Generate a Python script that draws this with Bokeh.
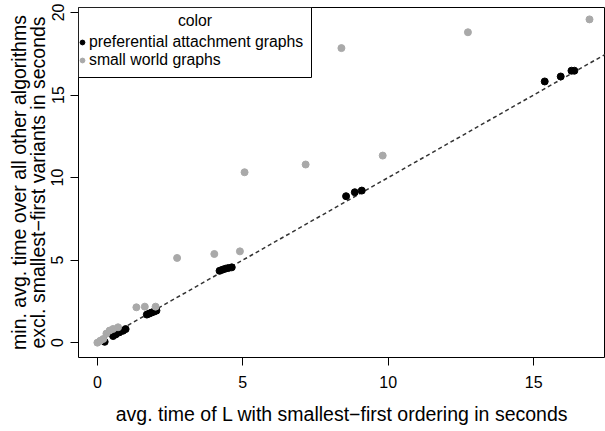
from bokeh.plotting import figure
from bokeh.models import Range1d, FixedTicker, Legend, LegendItem, BoxAnnotation, Label
from bokeh.embed import file_html
from bokeh.resources import INLINE

# preferential attachment graphs
pa_x = [0.25, 0.54, 0.63, 0.75, 0.88, 0.97, 1.70, 1.78, 1.86, 1.95, 2.03,
        4.20, 4.30, 4.40, 4.50, 4.62, 8.55, 8.85, 9.09, 15.38, 15.93, 16.30, 16.40]
pa_y = [0.05, 0.40, 0.50, 0.62, 0.72, 0.82, 1.70, 1.76, 1.82, 1.88, 1.94,
        4.35, 4.42, 4.48, 4.52, 4.56, 8.87, 9.11, 9.21, 15.82, 16.12, 16.47, 16.47]
# small world graphs
sw_x = [0.00, 0.10, 0.20, 0.31, 0.42, 0.54, 0.71, 1.34, 1.63, 2.00, 2.74,
        4.02, 4.90, 5.06, 7.16, 8.39, 9.81, 12.74, 16.92]
sw_y = [0.00, 0.12, 0.22, 0.55, 0.73, 0.83, 0.93, 2.14, 2.18, 2.18, 5.13,
        5.37, 5.53, 10.32, 10.79, 17.84, 11.33, 18.80, 19.58]
# reference line y = x
ref_x = [0, 18]
ref_y = [0, 18]

x_ticks = [0, 5, 10, 15]
y_ticks = [0, 5, 10, 15, 20]
legend_labels = ["preferential attachment graphs", "small world graphs"]
legend_title = "color"
x_title = "avg. time of L with smallest\u2212first ordering in seconds"
y_title = "min. avg. time over all other algorithms\nexcl. smallest\u2212first variants in seconds"

FONT = "Liberation Sans"
W, H = 605, 431
FL, FR, FT, FB = 78, 605, 7, 357
X0, X1 = -0.65, 17.47
Y0, Y1 = -0.9, 20.3

def px_x(px):
    return X0 + (px - FL) / (FR - FL) * (X1 - X0)

def px_y(py):
    return Y1 - (py - FT) / (FB - FT) * (Y1 - Y0)

p = figure(width=W, height=H, output_backend="svg", toolbar_location=None,
           x_range=Range1d(X0, X1), y_range=Range1d(Y0, Y1),
           min_border_left=FL, min_border_right=W - FR,
           min_border_top=FT, min_border_bottom=H - FB)
p.grid.visible = False
p.outline_line_color = "black"
p.outline_line_width = 1
p.background_fill_color = "white"
p.border_fill_color = "white"

for ax, ticks in ((p.xaxis, x_ticks), (p.yaxis, y_ticks)):
    ax.ticker = FixedTicker(ticks=ticks)
    ax.axis_line_color = None
    ax.major_tick_line_color = "black"
    ax.major_tick_in = 0
    ax.major_tick_out = 8
    ax.minor_tick_line_color = None
    ax.major_label_text_font = FONT
    ax.major_label_text_font_size = "16px"
    ax.major_label_text_color = "black"
    ax.axis_label_text_font = FONT
    ax.axis_label_text_font_size = "19.5px"
    ax.axis_label_text_font_style = "normal"
    ax.axis_label_text_color = "black"

p.xaxis.axis_label = x_title
p.xaxis.major_label_standoff = 10
p.xaxis.axis_label_standoff = 12
p.yaxis.axis_label = y_title
p.yaxis.axis_label_text_line_height = 0.85
p.yaxis.major_label_orientation = "parallel"
p.yaxis.major_label_standoff = 7
p.yaxis.axis_label_standoff = 0

p.line(ref_x, ref_y, line_color="#333333", line_width=1.5, line_dash="4 3")
r_pa = p.scatter(pa_x, pa_y, size=7, marker="circle", fill_color="black", line_color="black")
r_sw = p.scatter(sw_x, sw_y, size=7, marker="circle", fill_color="#a9a9a9", line_color="#a9a9a9")

# legend box
box = BoxAnnotation(left=px_x(78), right=px_x(311), top=px_y(7), bottom=px_y(77),
                    fill_color="white", fill_alpha=1, line_color="black", line_alpha=1,
                    line_width=1, level="annotation")
p.add_layout(box)
legend = Legend(items=[LegendItem(label=legend_labels[0], renderers=[r_pa]),
                       LegendItem(label=legend_labels[1], renderers=[r_sw])],
                location=(-2, 350 - 28 - 34), margin=0, padding=0,
                border_line_alpha=0, background_fill_alpha=0,
                glyph_width=12, glyph_height=12, label_height=17, spacing=0,
                label_standoff=1, label_text_font=FONT, label_text_font_size="15.8px",
                label_text_color="black")
p.add_layout(legend)
p.add_layout(Label(x=px_x(194.5), y=px_y(20), text=legend_title, text_align="center",
                   text_baseline="middle", text_font=FONT, text_font_size="15.8px",
                   text_color="black"))

open("out.html", "w").write(file_html(p, INLINE))
